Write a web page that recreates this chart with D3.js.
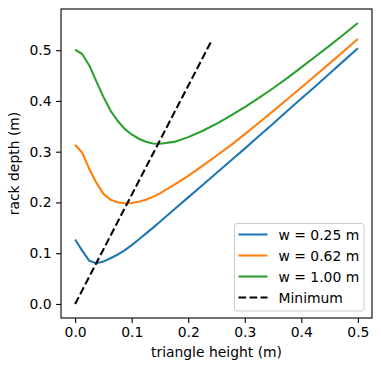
<!DOCTYPE html>
<html>
<head>
<meta charset="utf-8">
<script src="https://cdn.jsdelivr.net/npm/d3@7"></script>
<style>
  body { margin: 0; background: #fff; }
  text { font-family: "DejaVu Sans", sans-serif; fill: #000; }
</style>
</head>
<body>
<script>
// triangle height (m), shared by the three width curves
var heights = [0, 0.0125, 0.025, 0.0375, 0.05, 0.0625, 0.075, 0.0875, 0.1, 0.1125, 0.125, 0.1375, 0.15,
               0.175, 0.2, 0.225, 0.25, 0.275, 0.3, 0.325, 0.35, 0.375, 0.4, 0.425, 0.45, 0.475, 0.5];

// rack depth (m) for each width
var depthW025 = [0.127, 0.105, 0.085, 0.080, 0.0835, 0.090, 0.097, 0.1055, 0.116, 0.127, 0.1385, 0.150, 0.162,
                 0.186, 0.210, 0.234, 0.258, 0.282, 0.306, 0.331, 0.355, 0.380, 0.405, 0.429, 0.454, 0.479, 0.504];
var depthW062 = [0.3136, 0.298, 0.266, 0.239, 0.217, 0.2055, 0.2003, 0.1985, 0.1988, 0.2015, 0.2055, 0.211, 0.218,
                 0.2345, 0.2525, 0.272, 0.292, 0.3125, 0.3345, 0.357, 0.380, 0.4032, 0.4266, 0.4502, 0.474, 0.498, 0.522];
var depthW100 = [0.501, 0.4925, 0.470, 0.4385, 0.408, 0.381, 0.361, 0.345, 0.334, 0.3255, 0.3195, 0.316, 0.3155,
                 0.3193, 0.3287, 0.3408, 0.355, 0.371, 0.388, 0.406, 0.425, 0.445, 0.466, 0.4875, 0.509, 0.531, 0.5535];

// the line of minima
var minHeights = [0, 0.24];
var minDepths = [0, 0.516];

var seriesLabels = ["w = 0.25 m", "w = 0.62 m", "w = 1.00 m"];
var seriesColors = ["#1f77b4", "#ff7f0e", "#2ca02c"];
var xTicks = [0, 0.1, 0.2, 0.3, 0.4, 0.5];
var yTicks = [0, 0.1, 0.2, 0.3, 0.4, 0.5];

var width = 381, height = 371;
var plot = {left: 61, right: 372, top: 9, bottom: 318};
var lw = 2.08;          // 1.5pt at 100 dpi
var dash = "7.7,3.33";  // matplotlib "--" scaled by line width

var svg = d3.select("body").append("svg")
    .attr("width", width)
    .attr("height", height);

var allDepths = depthW025.concat(depthW062, depthW100, minDepths);
var yMin = d3.min(allDepths), yMax = d3.max(allDepths);
var yPad = (yMax - yMin) * 0.05;
var xPad = (d3.max(heights) - d3.min(heights)) * 0.05;

var x = d3.scaleLinear()
    .domain([d3.min(heights) - xPad, d3.max(heights) + xPad])
    .range([plot.left, plot.right]);

var y = d3.scaleLinear()
    .domain([yMin - yPad, yMax + yPad])
    .range([plot.bottom, plot.top]);

// axes
var xAxis = svg.append("g")
    .attr("transform", "translate(0," + plot.bottom + ")")
    .call(d3.axisBottom(x).tickValues(xTicks).tickFormat(d3.format(".1f")).tickSize(4.9).tickPadding(4));
var yAxis = svg.append("g")
    .attr("transform", "translate(" + plot.left + ",0)")
    .call(d3.axisLeft(y).tickValues(yTicks).tickFormat(d3.format(".1f")).tickSize(4.9).tickPadding(4.5));

[xAxis, yAxis].forEach(function(a) {
    a.select(".domain").remove();
    a.selectAll("line").attr("stroke", "#000").attr("stroke-width", 1.1);
    a.selectAll("text").style("font-size", "13.9px").style("font-family", "DejaVu Sans");
});

// lines
var line = d3.line()
    .x(function(d) { return x(d[0]); })
    .y(function(d) { return y(d[1]); });

[depthW025, depthW062, depthW100].forEach(function(depths, i) {
    svg.append("path")
        .datum(heights.map(function(h, j) { return [h, depths[j]]; }))
        .attr("d", line)
        .attr("fill", "none")
        .attr("stroke", seriesColors[i])
        .attr("stroke-width", lw)
        .attr("stroke-linejoin", "round");
});

svg.append("path")
    .datum(minHeights.map(function(h, j) { return [h, minDepths[j]]; }))
    .attr("d", line)
    .attr("fill", "none")
    .attr("stroke", "#000")
    .attr("stroke-width", lw)
    .attr("stroke-dasharray", dash);

// frame
svg.append("rect")
    .attr("x", plot.left)
    .attr("y", plot.top)
    .attr("width", plot.right - plot.left)
    .attr("height", plot.bottom - plot.top)
    .attr("fill", "none")
    .attr("stroke", "#000")
    .attr("stroke-width", 1.1);

// axis labels
svg.append("text")
    .attr("x", (plot.left + plot.right) / 2)
    .attr("y", 357)
    .attr("text-anchor", "middle")
    .style("font-size", "13.9px")
    .text("triangle height (m)");

svg.append("text")
    .attr("transform", "translate(19," + ((plot.top + plot.bottom) / 2) + ") rotate(-90)")
    .attr("text-anchor", "middle")
    .style("font-size", "13.9px")
    .text("rack depth (m)");

// legend
var legend = svg.append("g").attr("transform", "translate(234.5,223.5)");
legend.append("rect")
    .attr("width", 129.5)
    .attr("height", 87.5)
    .attr("rx", 2.5)
    .attr("fill", "#fff")
    .attr("fill-opacity", 0.8)
    .attr("stroke", "#cccccc")
    .attr("stroke-width", 1);

var legendItems = seriesLabels.map(function(l, i) { return {label: l, color: seriesColors[i], dash: null}; });
legendItems.push({label: "Minimum", color: "#000", dash: dash});

legendItems.forEach(function(item, i) {
    var yy = 11 + i * 21;
    legend.append("line")
        .attr("x1", 4)
        .attr("x2", 33)
        .attr("y1", yy)
        .attr("y2", yy)
        .attr("stroke", item.color)
        .attr("stroke-width", lw)
        .attr("stroke-dasharray", item.dash);
    legend.append("text")
        .attr("x", 44)
        .attr("y", yy + 5)
        .style("font-size", "13.9px")
        .text(item.label);
});
</script>
</body>
</html>
